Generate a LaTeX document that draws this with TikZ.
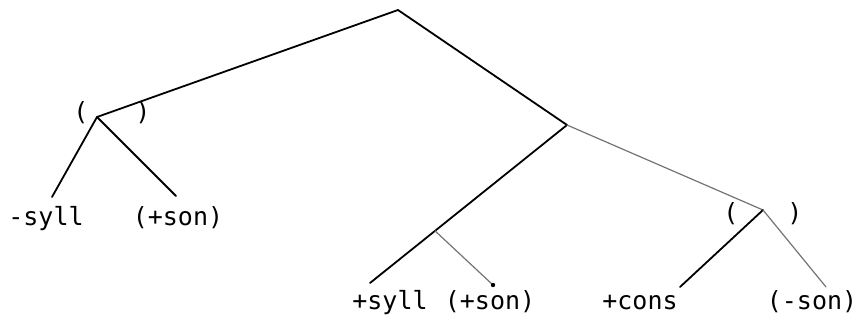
\documentclass[tikz,border=0pt]{standalone}
\usepackage{fontspec}
\usetikzlibrary{calc}
\newfontfamily\typefont{DejaVu Sans Mono}
\begin{document}
\begin{tikzpicture}[x=1pt,y=-1pt,
  feature/.style={font=\typefont\fontsize{25}{25}\selectfont, inner sep=0pt, anchor=base},
  optparen/.style={font=\typefont\fontsize{25}{25}\selectfont, inner sep=0pt},
  branch/.style={line width=1.8pt, black, line cap=round},
  faint/.style={line width=1.2pt, black!55, line cap=round}]
\useasboundingbox (0,0) rectangle (859,322);
% branching points
\coordinate (root) at (398,10);
\coordinate (lnode) at (97,117);
\coordinate (mnode) at (567,125);
\coordinate (rnode) at (763,210);
% leaf labels
\node[feature] (msyll) at (46,225) {-syll};
\node[feature] (lson) at (178,225) {(+son)};
\node[feature] (psyll) at (390,309) {+syll};
\node[feature] (mson) at (490,309) {(+son)};
\node[feature] (pcons) at (640,309) {+cons};
\node[feature] (rson) at (812,309) {(-son)};
% optional brackets around the left and right subtrees
\node[optparen] (lpl) at (81,113) {(};
\node[optparen] (lpr) at (143,113) {)};
\node[optparen] (rpl) at (731,214) {(};
\node[optparen] (rpr) at (795,214) {)};
% end points of the branches above the labels
\coordinate (msyllT) at (52,197);
\coordinate (lsonT) at (176,196);
\coordinate (psyllT) at (370,283);
\coordinate (msonT) at (493,285);
\coordinate (pconsT) at (680,287);
\coordinate (rsonT) at (826,287);
% side branch leaves the +syll branch part way down
\coordinate (snode) at ($(mnode)!0.67!(psyllT)$);
% branches
\draw[branch] (root) -- (lnode);
\draw[branch] (root) -- (mnode);
\draw[branch] (lnode) -- (msyllT);
\draw[branch] (lnode) -- (lsonT);
\draw[branch] (mnode) -- (psyllT);
\draw[faint] (mnode) -- (rnode);
\draw[faint] (snode) -- (msonT);
\fill (msonT) circle (2.2pt);
\draw[branch] (rnode) -- (pconsT);
\draw[faint] (rnode) -- (rsonT);
\end{tikzpicture}
\end{document}
